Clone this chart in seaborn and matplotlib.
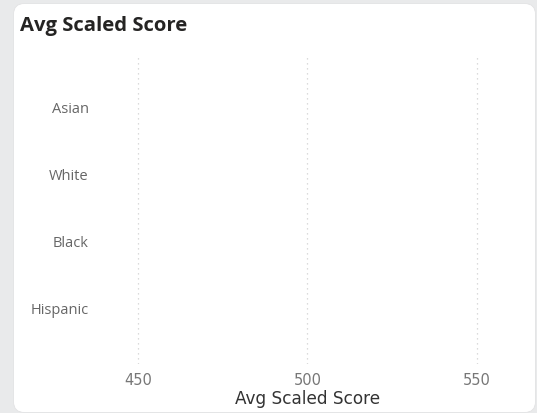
import numpy as np
import pandas as pd
import matplotlib
matplotlib.use("Agg")
import matplotlib.pyplot as plt
from matplotlib.patches import FancyBboxPatch
from matplotlib.transforms import IdentityTransform
import seaborn as sns

# Data (no bars visible in the reference -> values are missing)
categories = ["Asian", "White", "Black", "Hispanic"]
scores = [np.nan, np.nan, np.nan, np.nan]
x_ticks = [450, 500, 550]
title = "Avg Scaled Score"
x_label = "Avg Scaled Score"

df = pd.DataFrame({"Group": categories, "Score": scores})

sns.set_theme(style="white")
plt.rcParams["font.family"] = ["Open Sans", "DejaVu Sans"]

W, H = 537, 414
fig = plt.figure(figsize=(W / 100, H / 100), dpi=100)
fig.patch.set_facecolor("#e9eaeb")

# card in display pixels (origin bottom-left)
cx0, cx1, cy_top, cy_bot = 13.5, 535.5, 4.5, 413.5
card = FancyBboxPatch((cx0, H - cy_bot), cx1 - cx0, cy_bot - cy_top,
                      boxstyle="round,pad=0,rounding_size=11",
                      transform=IdentityTransform(), facecolor="white",
                      edgecolor="#e2e3e4", linewidth=0.6, zorder=-10)
fig.patches.append(card)

left, right, top, bottom = 100, 515, 57, 365
ax = fig.add_axes([left / W, 1 - bottom / H, (right - left) / W, (bottom - top) / H])
ax.set_facecolor("none")
ax.set_zorder(5)

sns.barplot(data=df, x="Score", y="Group", order=categories, orient="h",
            color="#118DFF", ax=ax)

px_per_unit = (477 - 138) / 100
x0 = 450 - (138 - left) / px_per_unit
x1 = 550 + (right - 477) / px_per_unit
ax.set_xlim(x0, x1)
ax.set_ylim(3.84, -0.76)
ax.set_xticks(x_ticks)
ax.set_xticklabels([str(t) for t in x_ticks])

ax.grid(axis="x", linestyle=(0, (1, 3)), color="#d0d0d0", linewidth=0.9)
ax.grid(axis="y", visible=False)
for s in ax.spines.values():
    s.set_visible(False)

ax.tick_params(axis="x", length=0, pad=6, labelcolor="#777777")
ax.tick_params(axis="y", length=0, pad=8, labelsize=10.5, labelcolor="#666666")
for lbl in ax.get_xticklabels():
    lbl.set_family(["DejaVu Sans"])
    lbl.set_fontsize(10.5)

ax.set_ylabel("")
ax.set_xlabel(x_label, fontsize=12.2, color="#333333", labelpad=1,
              family=["DejaVu Sans"], fontweight="medium")

fig.text(20 / W, 1 - 26 / H, title, fontsize=14.6, fontweight="bold",
         color="#252423", va="center", ha="left")

fig.savefig("out.png", dpi=100, facecolor=fig.get_facecolor())
